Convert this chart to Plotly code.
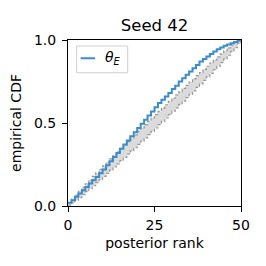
import plotly.graph_objects as go

ranks = list(range(51))
ecdf_theta_E = [0.02, 0.035, 0.055, 0.075, 0.095, 0.115, 0.135, 0.155, 0.175, 0.197,
                0.22, 0.245, 0.27, 0.295, 0.32, 0.345, 0.37, 0.395, 0.42, 0.445,
                0.47, 0.495, 0.52, 0.545, 0.57, 0.595, 0.62, 0.64, 0.66, 0.68,
                0.705, 0.725, 0.75, 0.77, 0.79, 0.81, 0.83, 0.85, 0.87, 0.885,
                0.90, 0.915, 0.93, 0.945, 0.955, 0.965, 0.973, 0.98, 0.988, 0.995, 1.0]
band_lower = [0.005, 0.019, 0.034, 0.051, 0.068, 0.086, 0.104, 0.122, 0.141, 0.159,
              0.178, 0.197, 0.216, 0.235, 0.254, 0.273, 0.293, 0.312, 0.332, 0.351,
              0.371, 0.390, 0.410, 0.430, 0.450, 0.470, 0.490, 0.510, 0.530, 0.550,
              0.571, 0.591, 0.612, 0.632, 0.653, 0.673, 0.694, 0.715, 0.736, 0.757,
              0.778, 0.799, 0.821, 0.842, 0.864, 0.886, 0.908, 0.931, 0.954, 0.979, 0.995]
band_upper = [0.02, 0.041, 0.066, 0.089, 0.112, 0.134, 0.156, 0.178, 0.199, 0.221,
              0.242, 0.263, 0.284, 0.305, 0.326, 0.347, 0.367, 0.388, 0.408, 0.429,
              0.449, 0.470, 0.490, 0.510, 0.530, 0.550, 0.570, 0.590, 0.610, 0.630,
              0.649, 0.669, 0.688, 0.708, 0.727, 0.747, 0.766, 0.785, 0.804, 0.823,
              0.842, 0.861, 0.879, 0.898, 0.916, 0.934, 0.952, 0.969, 0.986, 1.0, 1.0]
x_ticks = [0, 25, 50]
y_ticks = [0.0, 0.5, 1.0]
y_ticktext = ["0.0", "0.5", "1.0"]

FONT = "DejaVu Sans"
BLUE = "#3a8ccb"

fig = go.Figure()
fig.add_trace(go.Scatter(x=ranks, y=band_lower, mode="lines", line_shape="hv",
                         line=dict(color="#999999", width=1.2, dash="3px,2px"),
                         showlegend=False, hoverinfo="skip"))
fig.add_trace(go.Scatter(x=ranks, y=band_upper, mode="lines", line_shape="hv",
                         fill="tonexty", fillcolor="rgba(215,215,215,0.9)",
                         line=dict(color="#999999", width=1.2, dash="3px,2px"),
                         showlegend=False, hoverinfo="skip"))
fig.add_trace(go.Scatter(x=ranks, y=ecdf_theta_E, mode="lines", line_shape="hv",
                         line=dict(color=BLUE, width=2), name="θ_E", showlegend=False))

# manual legend
fig.add_shape(type="rect", xref="paper", yref="paper", x0=0.050, x1=0.345, y0=0.803, y1=0.964,
              line=dict(color="#d0d0d0", width=1), fillcolor="rgba(255,255,255,0.8)", layer="above")
fig.add_shape(type="line", xref="paper", yref="paper", x0=0.073, x1=0.156, y0=0.89, y1=0.89,
              line=dict(color=BLUE, width=2), layer="above")
fig.add_annotation(xref="paper", yref="paper", x=0.205, y=0.89, xanchor="left", yanchor="middle",
                   text="<i>θ</i><sub><i>E</i></sub>", showarrow=False,
                   font=dict(family=FONT, size=14, color="black"))

fig.update_layout(
    width=266, height=266,
    margin=dict(l=60, r=33, t=32, b=68, autoexpand=False),
    paper_bgcolor="white", plot_bgcolor="white",
    font=dict(family=FONT, size=14, color="black"),
    title=dict(text="Seed 42", x=0.5, xref="paper", xanchor="center",
               y=1, yref="paper", yanchor="bottom", pad=dict(b=9),
               font=dict(family=FONT, size=16.5, color="black")),
    showlegend=False,
)
fig.update_xaxes(range=[0, 50], tickvals=x_ticks, ticks="outside", ticklen=5, tickwidth=1.1,
                 tickcolor="black", showline=True, linecolor="black", linewidth=1.1, mirror=True,
                 showgrid=False, zeroline=False, automargin=False, ticklabelstandoff=1,
                 title=dict(text="posterior rank", standoff=6, font=dict(size=14)),
                 tickfont=dict(size=14))
fig.update_yaxes(range=[0, 1], tickvals=y_ticks, ticktext=y_ticktext, ticks="outside", ticklen=5,
                 tickwidth=1.1, tickcolor="black", showline=True, linecolor="black", linewidth=1.1,
                 mirror=True, showgrid=False, zeroline=False, automargin=False, ticklabelstandoff=3,
                 title=dict(text="empirical CDF", standoff=9, font=dict(size=14)),
                 tickfont=dict(size=14))

fig.write_html("out.html")
